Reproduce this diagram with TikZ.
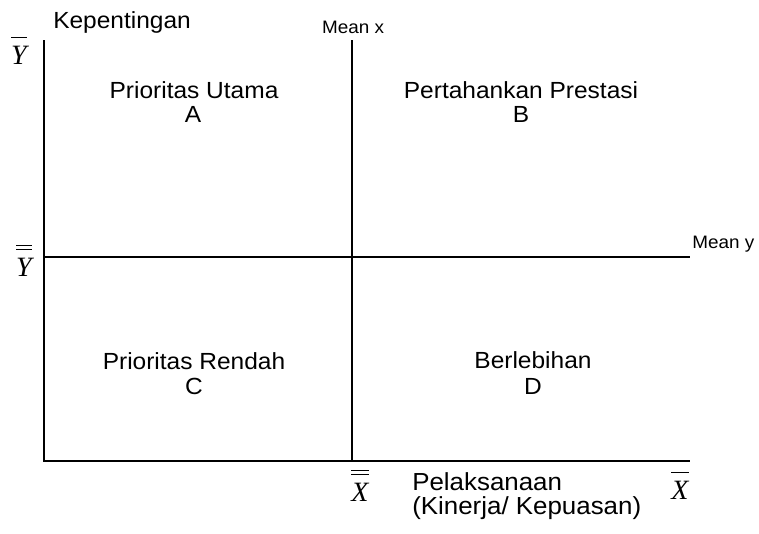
\documentclass[tikz,border=0pt]{standalone}
\usepackage{fontspec}
\setmainfont{Liberation Sans}[FakeStretch=1.05]
\newfontfamily\tnr{Liberation Serif}
\usetikzlibrary{positioning}

% bar and double bar over a letter
\newcommand\sbar[1]{\vbox{\hrule height 0.8pt\kern 5.5pt\hbox{#1}}}
\newcommand\dbar[1]{\vbox{\hrule height 0.8pt\kern 2.2pt\hrule height 0.8pt\kern 5.5pt\hbox{#1}}}

\tikzset{
  axis/.style={line width=1.5pt},
  lbl/.style={font=\fontsize{17.5}{20}\selectfont, anchor=base, inner sep=0pt},
  meanlbl/.style={font=\fontsize{13.5}{15}\selectfont, anchor=base, inner sep=0pt},
  ttl/.style={font=\fontsize{18.5}{21}\selectfont, anchor=base west, inner sep=0pt},
  sym/.style={font=\fontsize{21}{24}\selectfont\tnr\itshape, anchor=base, inner sep=0pt}
}

\begin{document}
\begin{tikzpicture}[x=0.75pt,y=-0.75pt]
	\useasboundingbox (0,0) rectangle (759,533);
	% axes and mean lines
	\coordinate (top) at (44,40);
	\coordinate (orig) at (44,461);
	\coordinate (xend) at (690,461);
	\coordinate (mxtop) at (352,40);
	\coordinate (mxbot) at (352,461);
	\coordinate (myl) at (44,257);
	\coordinate (myr) at (690,257);
	\draw[axis] (top) -- (orig) -- (xend);
	\draw[axis] (mxtop) -- (mxbot);
	\draw[axis] (myl) -- (myr);
	% axis texts
	\node[ttl, font=\fontsize{17.5}{20}\selectfont] (yname) at (53,28) {Kepentingan};
	\node[sym] (ybar) at (19,64) {\sbar{Y}};
	\node[sym] (ydbar) at (24,276) {\dbar{Y}};
	\node[sym] (xdbar) at (360,501) {\dbar{X}};
	\node[sym] (xbar) at (680,499) {\sbar{X}};
	\node[ttl] (xname) at (412,490) {Pelaksanaan};
	\node[ttl] (xname2) at (412,514) {(Kinerja/ Kepuasan)};
	\node[meanlbl] (meanx) at (353,33) {Mean x};
	\node[meanlbl, anchor=base west] (meany) at (692,248) {Mean y};
	% quadrants
	\node[lbl] (qa) at (194,98) {Prioritas Utama};
	\node[lbl] (qa2) at (193,122) {A};
	\node[lbl] (qb) at (521,98) {Pertahankan Prestasi};
	\node[lbl] (qb2) at (521,122) {B};
	\node[lbl] (qc) at (194,369) {Prioritas Rendah};
	\node[lbl] (qc2) at (194,394) {C};
	\node[lbl] (qd) at (533,368) {Berlebihan};
	\node[lbl] (qd2) at (533,394) {D};
\end{tikzpicture}
\end{document}
